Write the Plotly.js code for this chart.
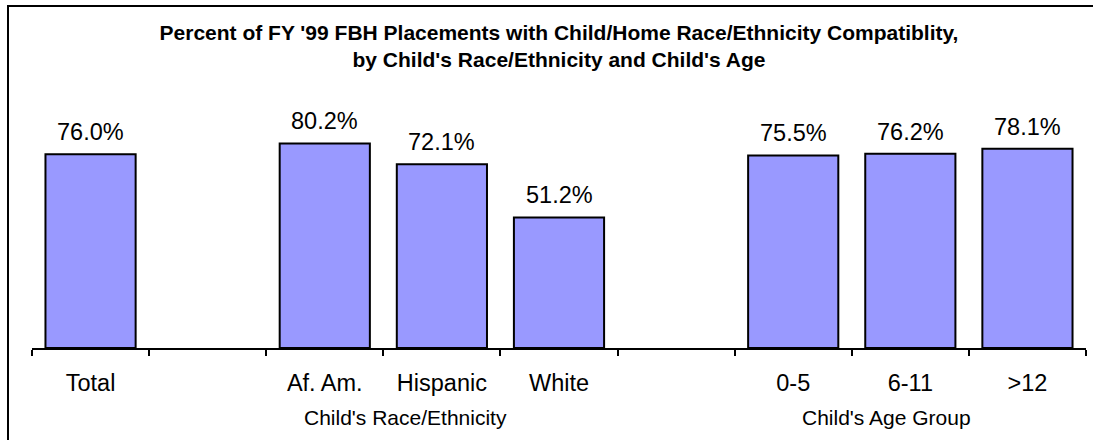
<!DOCTYPE html>
<html>
<head>
<meta charset="utf-8">
<script src="https://cdn.plot.ly/plotly-3.0.1.min.js"></script>
<style>
  html, body { margin: 0; padding: 0; background: #ffffff; overflow: hidden; width: 1093px; height: 440px; }
  #wrap { position: relative; width: 1093px; height: 440px; overflow: hidden; }
  #chart { width: 1093px; height: 440px; }
  #frame { position: absolute; left: 7px; top: 5px; width: 1200px; height: 600px;
           border-left: 2px solid #000; border-top: 2px solid #000; pointer-events: none; }
</style>
</head>
<body>
<div id="wrap">
  <div id="chart"></div>
  <div id="frame"></div>
</div>
<script>
// ---- data ----
const categories = ['Total', '\u00a0', 'Af. Am.', 'Hispanic', 'White', '\u00a0\u00a0', '0-5', '6-11', '>12'];
const percents   = [76.0, null, 80.2, 72.1, 51.2, null, 75.5, 76.2, 78.1];
const groupLabels = ["Child's Race/Ethnicity", "Child's Age Group"];
const groupPositions = [2.685, 6.80];   // category-index positions of the group labels
const chartTitle = "Percent of FY '99 FBH Placements with Child/Home Race/Ethnicity Compatiblity,<br>by Child's Race/Ethnicity and Child's Age";

const FONT = 'Arial, "Liberation Sans", sans-serif';

const trace = {
  type: 'bar',
  x: categories,
  y: percents,
  marker: { color: '#9999FF', line: { color: '#000000', width: 2 } },
  hoverinfo: 'x+y',
  cliponaxis: false
};

const annotations = [];
categories.forEach((c, i) => {
  if (percents[i] === null) return;
  annotations.push({
    x: c, y: percents[i], xref: 'x', yref: 'y',
    text: percents[i].toFixed(1) + '%',
    showarrow: false, yanchor: 'bottom', yshift: 7,
    font: { family: FONT, size: 23.5, color: '#000' }
  });
});
groupLabels.forEach((g, i) => {
  annotations.push({
    x: groupPositions[i], y: -0.273, xref: 'x', yref: 'paper',
    text: g, showarrow: false, yanchor: 'middle',
    font: { family: FONT, size: 21, color: '#000' }
  });
});

const W = 1093, H = 440;
const mL = 32, mR = 7, mT = 92.5, mB = 92.3;

const layout = {
  width: W, height: H,
  margin: { l: mL, r: mR, t: mT, b: mB, pad: 0 },
  paper_bgcolor: '#ffffff', plot_bgcolor: '#ffffff',
  showlegend: false,
  bargap: 0.23,
  title: {
    text: chartTitle,
    font: { family: FONT, size: 21, color: '#000', weight: 'bold' },
    x: (559) / W, xanchor: 'center', xref: 'container',
    y: 1 - 40 / H, yanchor: 'top', yref: 'container'
  },
  xaxis: {
    type: 'category',
    categoryorder: 'array', categoryarray: categories,
    showline: true, linecolor: '#000', linewidth: 2,
    ticks: 'outside', tickson: 'boundaries', ticklen: 6, tickwidth: 2, tickcolor: '#000',
    showgrid: false, zeroline: false,
    tickfont: { family: FONT, size: 23.5, color: '#000' },
    ticklabelstandoff: 13,
    fixedrange: true
  },
  yaxis: {
    range: [0, 100], visible: false, showgrid: false, zeroline: false, fixedrange: true
  },
  annotations: annotations
};

Plotly.newPlot('chart', [trace], layout, { displayModeBar: false, staticPlot: true });
</script>
</body>
</html>
